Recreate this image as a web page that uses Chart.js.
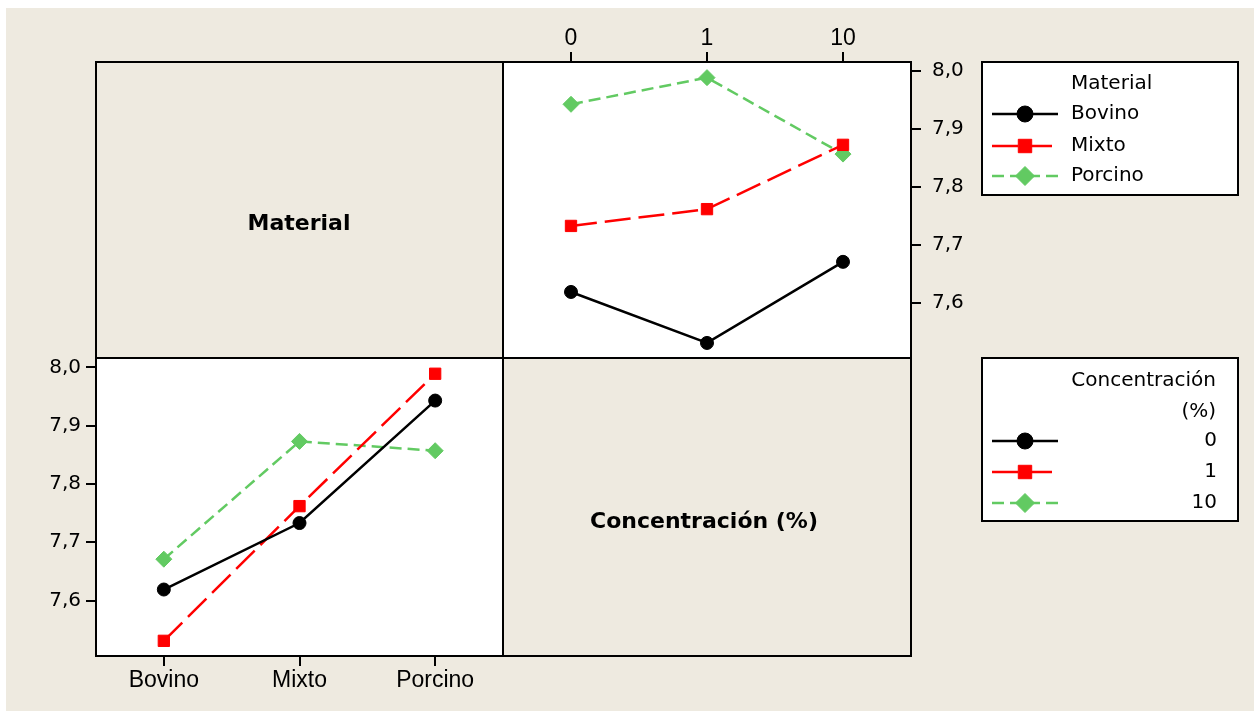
<!DOCTYPE html>
<html>
<head>
<meta charset="utf-8">
<script src="https://cdn.jsdelivr.net/npm/chart.js@4.4.1/dist/chart.umd.min.js"></script>
<style>
  html, body { margin: 0; padding: 0; background: #ffffff; }
  #wrap { position: relative; width: 1254px; height: 711px; overflow: hidden; }
  #wrap canvas { position: absolute; left: 0; top: 0; }
</style>
</head>
<body>
<div id="wrap">
  <canvas id="porMaterial" width="1254" height="711"></canvas>
  <canvas id="porConcentracion" width="1254" height="711"></canvas>
</div>
<script>
// Factor levels
const materiales = ['Bovino', 'Mixto', 'Porcino'];
const concentraciones = ['0', '1', '10'];

// Mean response of each material at concentration 0, 1 and 10 %
const bovino  = [7.619, 7.531, 7.671];
const mixto   = [7.733, 7.762, 7.873];
const porcino = [7.943, 7.989, 7.857];

// Shared response axis
const yTicks = [7.6, 7.7, 7.8, 7.9, 8.0];
const yMin = 7.505;
const yMax = 8.016;

const W = 1254, H = 711;
const FONT = "'DejaVu Sans', 'Verdana', sans-serif";
const FONT_X = "'Liberation Sans', Arial, sans-serif";
const BEIGE = '#EEEAE0';

// Panel grid of the interaction matrix
const P = { left: 96, mid: 503, right: 911, top: 62, midY: 358, bottom: 656 };

// Line / marker style per level (level 1 = black, 2 = red, 3 = green)
const estilos = [
  { color: '#000000', dash: [],      pointStyle: 'circle',  radius: 6.5, legendRadius: 8 },
  { color: '#FF0000', dash: [26, 8], pointStyle: 'rect',    radius: 8,   legendRadius: 9.5 },
  { color: '#62CA62', dash: [12, 6], pointStyle: 'rectRot', radius: 8,   legendRadius: 9.5 }
];

Chart.defaults.font.family = FONT;
Chart.defaults.font.size = 20;
Chart.defaults.color = '#000';

const fmt = v => v.toFixed(1).replace('.', ',');

const gridOpts = {
  display: true,
  drawOnChartArea: false,
  drawTicks: true,
  tickLength: 10,
  color: '#000',
  lineWidth: 2
};

function serie(label, data, st) {
  return {
    label, data,
    borderColor: st.color,
    backgroundColor: st.color,
    borderWidth: 2.5,
    borderDash: st.dash,
    tension: 0,
    fill: false,
    pointStyle: st.pointStyle,
    pointRadius: st.radius,
    pointHoverRadius: st.radius,
    pointBorderWidth: 1,
    pointBorderColor: st.color,
    pointBackgroundColor: st.color
  };
}

function ejeY(position, padding, width) {
  return {
    type: 'linear',
    position,
    min: yMin,
    max: yMax,
    afterBuildTicks: s => { s.ticks = yTicks.map(v => ({ value: v })); },
    afterFit: s => { s.width = width; },
    grid: gridOpts,
    border: { display: false },
    ticks: { padding, color: '#000', font: { size: 20, family: FONT }, callback: v => fmt(v) }
  };
}

function ejeX(position, padding, height) {
  return {
    type: 'category',
    position,
    offset: true,
    afterFit: s => { s.height = height; },
    grid: gridOpts,
    border: { display: false },
    ticks: { padding, color: '#000', font: { size: 23, family: FONT_X }, autoSkip: false, maxRotation: 0 }
  };
}

function marcador(ctx, st, x, y, r) {
  ctx.save();
  ctx.setLineDash([]);
  ctx.fillStyle = st.color;
  ctx.strokeStyle = st.color;
  ctx.lineWidth = 1;
  ctx.beginPath();
  if (st.pointStyle === 'circle') {
    ctx.arc(x, y, r, 0, Math.PI * 2);
  } else if (st.pointStyle === 'rect') {
    const s = r * Math.SQRT1_2;
    ctx.rect(x - s, y - s, 2 * s, 2 * s);
  } else {
    ctx.moveTo(x - r, y);
    ctx.lineTo(x, y - r);
    ctx.lineTo(x + r, y);
    ctx.lineTo(x, y + r);
    ctx.closePath();
  }
  ctx.fill();
  ctx.stroke();
  ctx.restore();
}

function muestra(ctx, st, y) {
  ctx.save();
  ctx.strokeStyle = st.color;
  ctx.lineWidth = 2.5;
  ctx.setLineDash(st.dash);
  ctx.beginPath();
  ctx.moveTo(992, y);
  ctx.lineTo(1058, y);
  ctx.stroke();
  ctx.restore();
  marcador(ctx, st, 1025, y, st.legendRadius);
}

function caja(ctx, x, y, w, h) {
  ctx.save();
  ctx.fillStyle = '#ffffff';
  ctx.fillRect(x, y, w, h);
  ctx.strokeStyle = '#000';
  ctx.lineWidth = 2;
  ctx.strokeRect(x, y, w, h);
  ctx.restore();
}

// Page background, white plot panels and the diagonal factor names
const fondo = {
  id: 'fondo',
  beforeDraw(chart) {
    const ctx = chart.ctx;
    ctx.save();
    ctx.fillStyle = '#ffffff';
    ctx.fillRect(0, 0, W, H);
    ctx.fillStyle = BEIGE;
    ctx.fillRect(6, 8, W - 6, H - 8);
    ctx.fillStyle = '#ffffff';
    ctx.fillRect(P.mid, P.top, P.right - P.mid, P.midY - P.top);
    ctx.fillRect(P.left, P.midY, P.mid - P.left, P.bottom - P.midY);
    ctx.fillStyle = '#000';
    ctx.font = 'bold 22px ' + FONT;
    ctx.textAlign = 'center';
    ctx.textBaseline = 'middle';
    ctx.fillText('Material', 299, 224);
    ctx.fillText('Concentración (%)', 704, 522);
    ctx.restore();
  }
};

// Matrix frame and the two legends
const marcos = {
  id: 'marcos',
  afterDraw(chart) {
    const ctx = chart.ctx;
    ctx.save();
    ctx.strokeStyle = '#000';
    ctx.lineWidth = 2;
    ctx.setLineDash([]);
    ctx.strokeRect(P.left, P.top, P.right - P.left, P.bottom - P.top);
    ctx.beginPath();
    ctx.moveTo(P.mid, P.top);
    ctx.lineTo(P.mid, P.bottom);
    ctx.moveTo(P.left, P.midY);
    ctx.lineTo(P.right, P.midY);
    ctx.stroke();

    // Legend: Material
    caja(ctx, 982, 62, 256, 133);
    ctx.fillStyle = '#000';
    ctx.font = '20px ' + FONT;
    ctx.textBaseline = 'middle';
    ctx.textAlign = 'left';
    ctx.fillText('Material', 1071, 84);
    const yMat = [114, 146, 176];
    materiales.forEach((m, i) => {
      muestra(ctx, estilos[i], yMat[i]);
      ctx.fillStyle = '#000';
      ctx.fillText(m, 1071, yMat[i]);
    });

    // Legend: Concentración (%)
    caja(ctx, 982, 358, 256, 163);
    ctx.fillStyle = '#000';
    ctx.textAlign = 'right';
    ctx.fillText('Concentración', 1216, 381);
    ctx.fillText('(%)', 1216, 412);
    const yCon = [441, 472, 503];
    concentraciones.forEach((c, i) => {
      muestra(ctx, estilos[i], yCon[i]);
      ctx.fillStyle = '#000';
      ctx.textAlign = 'right';
      ctx.fillText(c, 1217, yCon[i]);
    });
    ctx.restore();
  }
};

const base = {
  responsive: false,
  maintainAspectRatio: false,
  animation: false,
  devicePixelRatio: 1,
  events: [],
  plugins: { legend: { display: false }, tooltip: { enabled: false }, title: { display: false } }
};

// Lower-left panel: response vs material, one line per concentration
new Chart(document.getElementById('porMaterial'), {
  type: 'line',
  data: {
    labels: materiales,
    datasets: concentraciones.map((c, i) =>
      serie(c, [bovino[i], mixto[i], porcino[i]], estilos[i]))
  },
  options: Object.assign({}, base, {
    layout: { padding: { left: P.left - 60, right: W - P.mid, top: P.midY, bottom: H - P.bottom - 45 } },
    scales: {
      x: ejeX('bottom', 1, 45),
      y: ejeY('left', 5, 60)
    }
  }),
  plugins: [fondo]
});

// Upper-right panel: response vs concentration, one line per material
new Chart(document.getElementById('porConcentracion'), {
  type: 'line',
  data: {
    labels: concentraciones,
    datasets: [
      serie(materiales[0], bovino, estilos[0]),
      serie(materiales[1], mixto, estilos[1]),
      serie(materiales[2], porcino, estilos[2])
    ]
  },
  options: Object.assign({}, base, {
    layout: { padding: { left: P.mid, right: W - P.right - 70, top: P.top - 50, bottom: H - P.midY } },
    scales: {
      x: ejeX('top', 0, 50),
      y: ejeY('right', 11, 70)
    }
  }),
  plugins: [marcos]
});
</script>
</body>
</html>
